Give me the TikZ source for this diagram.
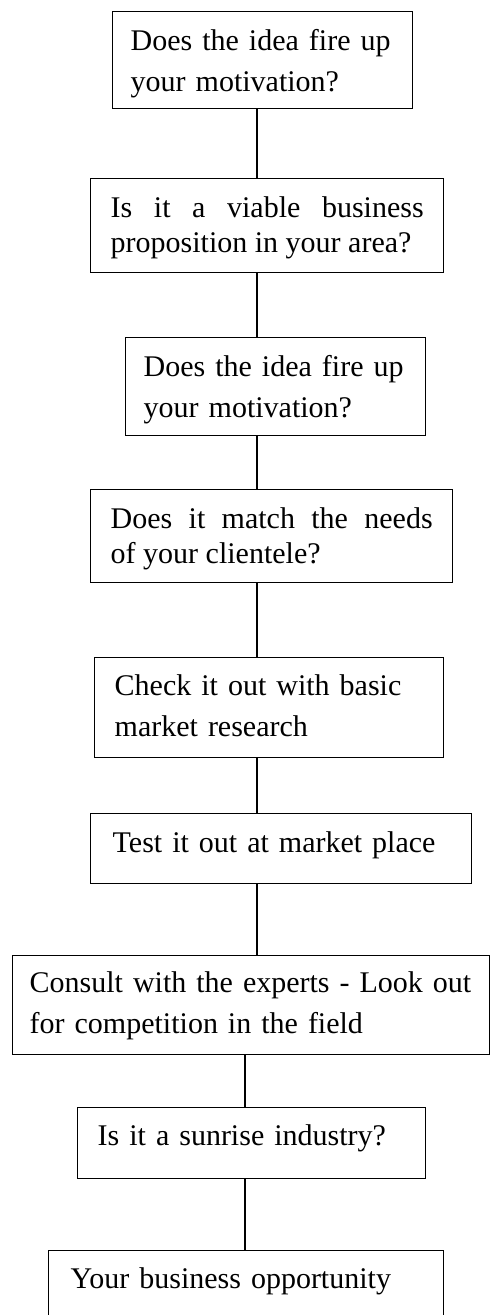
\documentclass[tikz,border=0pt]{standalone}
\usepackage{fontspec}
\setmainfont{Liberation Serif}
\begin{document}
\begin{tikzpicture}[
		x=1pt, y=-1pt,
		font=\fontsize{30}{41}\selectfont,
		link/.style={line width=1.4pt},
		stepbox/.style={rectangle, draw, line width=1.4pt, anchor=north west,
			inner ysep=0pt, align=left},
		tightbox/.style={stepbox, align=justify, font=\fontsize{30}{35}\selectfont}
		]
		\useasboundingbox (0,0) rectangle (490,1315);
		
		% ---- Boxes, top to bottom ----
		\node[stepbox, inner xsep=18pt, text width=264pt, text height=39pt, text depth=58pt]
		(fire) at (112,11) {Does the idea fire up\\your motivation?};
		\node[tightbox, inner xsep=20pt, text width=313pt, text height=39pt, text depth=55pt]
		(viable) at (90,178) {Is it a viable business\linebreak proposition in your area?};
		\node[stepbox, inner xsep=18pt, text width=264pt, text height=39pt, text depth=59pt]
		(fireagain) at (125,337) {Does the idea fire up\\your motivation?};
		\node[tightbox, inner xsep=20pt, text width=322pt, text height=39pt, text depth=54pt]
		(match) at (90,489) {Does it match the needs\linebreak of your clientele?};
		\node[stepbox, inner xsep=20pt, text width=309pt, text height=38pt, text depth=62pt]
		(check) at (94,657) {Check it out with basic\\market research};
		\node[stepbox, inner xsep=22pt, text width=337pt, text height=39pt, text depth=31pt]
		(test) at (90,813) {Test it out at market place};
		\node[stepbox, inner xsep=17pt, text width=443pt, text height=37pt, text depth=62pt]
		(consult) at (12,955) {Consult with the experts - Look out\\for competition in the field};
		\node[stepbox, inner xsep=20pt, text width=308pt, text height=38pt, text depth=33pt]
		(sunrise) at (77,1107) {Is it a sunrise industry?};
		\node[stepbox, inner xsep=22pt, text width=351pt, text height=38pt, text depth=37pt]
		(opportunity) at (48,1250) {Your business opportunity};
		
		% ---- Spines for the connectors ----
		\coordinate (spine) at (257,0);
		\coordinate (spinelow) at (245,0);
		
		% ---- Connectors (plain lines, no tips) ----
		\draw[link] (fire.south -| spine) -- (viable.north -| spine);
		\draw[link] (viable.south -| spine) -- (fireagain.north -| spine);
		\draw[link] (fireagain.south -| spine) -- (match.north -| spine);
		\draw[link] (match.south -| spine) -- (check.north -| spine);
		\draw[link] (check.south -| spine) -- (test.north -| spine);
		\draw[link] (test.south -| spine) -- (consult.north -| spine);
		
		% lower part is shifted a bit to the left
		\draw[link] (consult.south -| spinelow) -- (sunrise.north -| spinelow);
		\draw[link] (sunrise.south -| spinelow) -- (opportunity.north -| spinelow);
	\end{tikzpicture}
\end{document}
